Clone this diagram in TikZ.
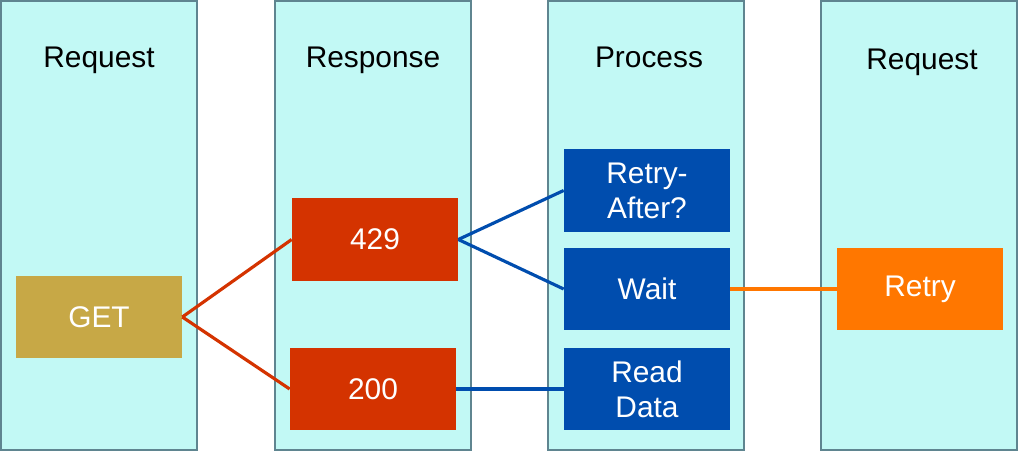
\documentclass[tikz,border=0pt]{standalone}
\usepackage{fontspec}
\setmainfont{Liberation Sans}

\definecolor{lanefill}{HTML}{C2F9F5}
\definecolor{laneline}{HTML}{5F8590}
\definecolor{getfill}{HTML}{C7A846}
\definecolor{codefill}{HTML}{D43300}
\definecolor{stepfill}{HTML}{004DAE}
\definecolor{retryfill}{HTML}{FF7700}

\begin{document}
\begin{tikzpicture}[x=0.02cm, y=-0.02cm,
  every node/.style={font=\fontsize{17}{19.8}\selectfont},
  lane/.style={draw=laneline, fill=lanefill, line width=1.1pt},
  head/.style={anchor=base, text=black},
  box/.style={minimum width=3.32cm, minimum height=1.66cm, inner sep=0pt, text=white, align=center},
  link/.style={line width=1.8pt}]

\useasboundingbox (0,0) rectangle (1018,462);

% colonnes
\foreach \x in {1, 275, 548, 821}
    \draw[lane] (\x,1) rectangle (\x+196,450);

\node[head] (hreq) at (99,68) {Request};
\node[head] (hresp) at (373,68) {Response};
\node[head] (hproc) at (649,68) {Process};
\node[head] (hretry) at (922,70) {Request};

% boites
\node[box, fill=getfill] (get) at (99,317) {GET};
\node[box, fill=codefill] (c429) at (375,239.5) {429};
\node[box, fill=codefill] (c200) at (373,389) {200};
\node[box, fill=stepfill] (after) at (647,190.5) {Retry-\\After?};
\node[box, fill=stepfill] (wait) at (647,289) {Wait};
\node[box, fill=stepfill] (read) at (647,389) {Read\\Data};
\node[box, fill=retryfill] (retry) at (920,289) {Retry};

% liens
\draw[link, codefill] (get.east) -- (c429.west);
\draw[link, codefill] (get.east) -- (c200.west);
\draw[link, stepfill] (c429.east) -- (after.west);
\draw[link, stepfill] (c429.east) -- (wait.west);
\draw[link, stepfill] (c200.east) -- (read.west);
\draw[link, retryfill] (wait.east) -- (retry.west);

\end{tikzpicture}
\end{document}
